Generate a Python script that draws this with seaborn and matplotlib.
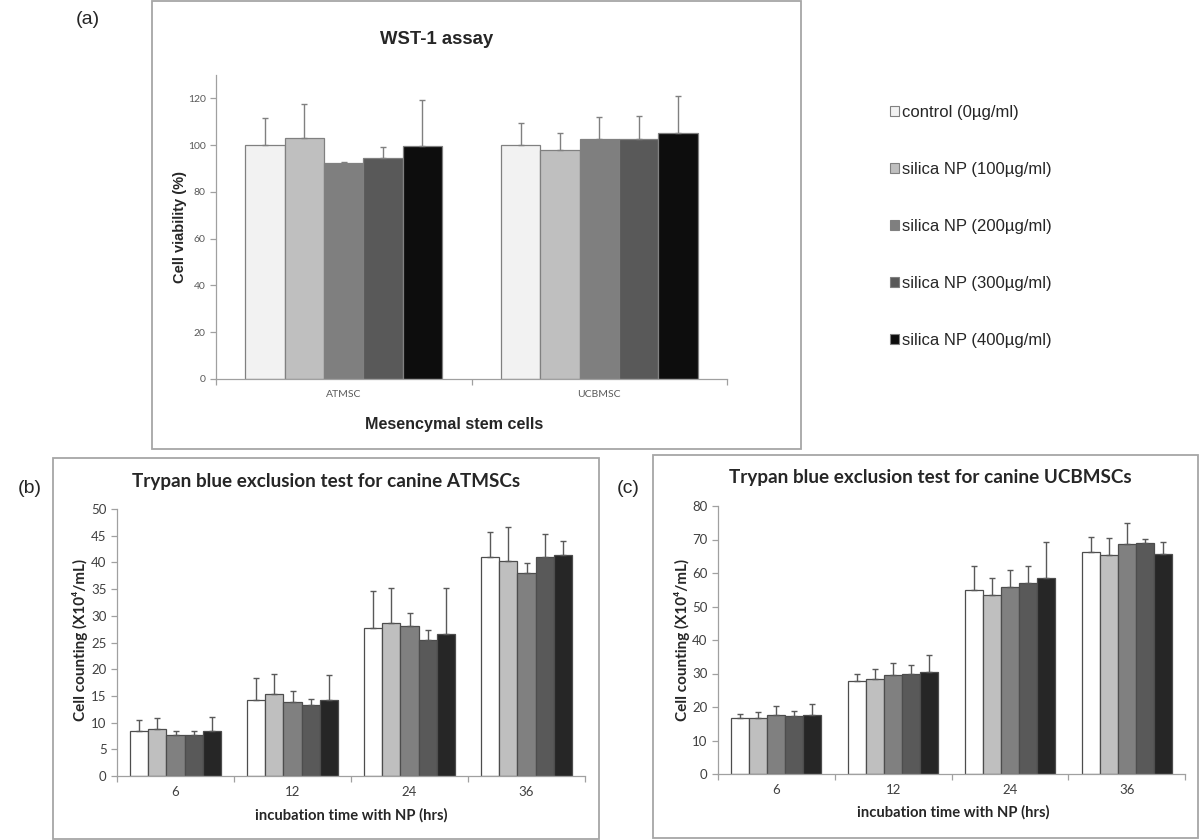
import numpy as np
import pandas as pd
import matplotlib
matplotlib.use("Agg")
import matplotlib.pyplot as plt
from matplotlib.patches import Rectangle
import seaborn as sns

# ---------------- data ----------------
groups = ["control (0µg/ml)", "silica NP (100µg/ml)", "silica NP (200µg/ml)",
          "silica NP (300µg/ml)", "silica NP (400µg/ml)"]

# (a) WST-1 assay
wst_cells = ["ATMSC", "UCBMSC"]
wst_atmsc = [100.0, 103.0, 92.5, 94.5, 99.5]
wst_atmsc_err = [11.7, 14.4, 0.4, 4.7, 19.6]
wst_ucbmsc = [100.0, 97.9, 102.7, 102.7, 105.4]
wst_ucbmsc_err = [9.5, 7.4, 9.4, 9.7, 15.7]

# (b), (c) Trypan blue
hours = ["6", "12", "24", "36"]
at_6 = [8.4, 8.8, 7.7, 7.7, 8.4]
at_6_err = [2.0, 2.0, 0.7, 0.7, 2.7]
at_12 = [14.3, 15.3, 13.9, 13.3, 14.3]
at_12_err = [4.0, 3.8, 2.1, 1.1, 4.7]
at_24 = [27.7, 28.6, 28.0, 25.4, 26.6]
at_24_err = [6.9, 6.6, 2.5, 2.0, 8.6]
at_36 = [41.0, 40.3, 38.0, 41.0, 41.4]
at_36_err = [4.6, 6.4, 1.8, 4.4, 2.7]

uc_6 = [16.6, 16.6, 17.7, 17.4, 17.7]
uc_6_err = [1.4, 1.8, 2.5, 1.5, 3.1]
uc_12 = [27.8, 28.3, 29.6, 30.0, 30.4]
uc_12_err = [2.0, 3.0, 3.6, 2.6, 5.2]
uc_24 = [54.8, 53.5, 55.8, 57.1, 58.6]
uc_24_err = [7.3, 4.9, 5.0, 5.0, 10.7]
uc_36 = [66.2, 65.4, 68.7, 69.1, 65.7]
uc_36_err = [4.4, 5.0, 6.2, 1.0, 3.5]

pal_a = ["#f2f2f2", "#bfbfbf", "#7f7f7f", "#595959", "#0d0d0d"]
pal_bc = ["#ffffff", "#bfbfbf", "#808080", "#595959", "#262626"]

# ---------------- setup ----------------
sns.set_theme(style="white")
ARIAL = ["Liberation Sans", "DejaVu Sans"]
CALIBRI = ["Lato", "DejaVu Sans"]
plt.rcParams["font.family"] = ARIAL

W, H = 1200, 840
fig = plt.figure(figsize=(W / 100, H / 100), dpi=100)


def px(x, y):
    return x / W, 1 - y / H


def axes_px(x0, y0, x1, y1):
    return fig.add_axes([x0 / W, 1 - y1 / H, (x1 - x0) / W, (y1 - y0) / H])


def frame(x0, y0, x1, y1):
    fig.patches.append(Rectangle((x0 / W, 1 - y1 / H), (x1 - x0) / W, (y1 - y0) / H,
                                 transform=fig.transFigure, fill=False,
                                 edgecolor="#a6a6a6", linewidth=1.3))


def draw(ax, cats, means, errs, pal, edge, errc, spinec):
    rows = []
    for c, m in zip(cats, means):
        for g, v in zip(groups, m):
            rows.append({"cat": c, "group": g, "val": v})
    df = pd.DataFrame(rows)
    sns.barplot(data=df, x="cat", y="val", hue="group", order=cats, hue_order=groups,
                palette=pal, width=0.77, errorbar=None, edgecolor=edge,
                linewidth=0.9, saturation=1, ax=ax)
    bar_conts = list(ax.containers)
    for gi, cont in enumerate(bar_conts):
        for ci, bar in enumerate(cont.patches):
            x = bar.get_x() + bar.get_width() / 2
            y = bar.get_height()
            ax.errorbar([x], [y], yerr=[[0], [errs[ci][gi]]], fmt="none",
                        ecolor=errc, elinewidth=1.0, capsize=2.2, capthick=1.0)
    n = len(cats)
    ax.set_xlim(-0.5, n - 0.5)
    ax.set_xticks(range(n))
    ax.set_xticks(np.arange(-0.5, n), minor=True)
    ax.set_xlabel("")
    ax.set_ylabel("")
    for s in ["top", "right"]:
        ax.spines[s].set_visible(False)
    for s in ["left", "bottom"]:
        ax.spines[s].set_color(spinec)
        ax.spines[s].set_linewidth(0.9)
    ax.tick_params(axis="x", which="major", bottom=False, length=0)
    ax.tick_params(axis="x", which="minor", bottom=True, length=4, color=spinec, width=0.9)
    ax.tick_params(axis="y", left=True, length=4, color=spinec, width=0.9)


# ---------------- (a) ----------------
frame(152, 1, 801, 449)
ax_a = axes_px(216, 75, 727, 379)
draw(ax_a, wst_cells, [wst_atmsc, wst_ucbmsc], [wst_atmsc_err, wst_ucbmsc_err],
     pal_a, "#808080", "#808080", "#a0a0a0")
ax_a.set_ylim(0, 130)
ax_a.set_yticks(np.arange(0, 121, 20))
ax_a.tick_params(axis="both", labelsize=7.5, labelcolor="#595959")
ax_a.tick_params(axis="x", pad=8)
for t in ax_a.get_xticklabels() + ax_a.get_yticklabels():
    t.set_family(CALIBRI)
handles, labels = ax_a.get_legend_handles_labels()
if ax_a.get_legend() is not None:
    ax_a.get_legend().remove()
for h in handles:
    h.set_edgecolor("#808080")
    h.set_linewidth(0.8)
fig.legend(handles, labels, loc="upper left", bbox_to_anchor=px(890, 105),
           frameon=False, prop={"family": ARIAL, "size": 12}, labelspacing=2.52,
           handlelength=0.55, handleheight=0.55, handletextpad=0.2,
           borderpad=0, borderaxespad=0)

fig.text(*px(88, 20), "(a)", ha="center", va="center", fontsize=14, family=ARIAL)
fig.text(*px(437, 40), "WST-1 assay", ha="center", va="center", fontsize=13.3,
         fontweight="bold", family=ARIAL)
fig.text(*px(180, 227), "Cell viability (%)", ha="center", va="center", rotation=90,
         fontsize=10.5, fontweight="bold", family=ARIAL)
fig.text(*px(454, 425), "Mesencymal stem cells", ha="center", va="center", fontsize=11.6,
         fontweight="bold", family=ARIAL)

# ---------------- (b) ----------------
frame(53, 458, 599, 839)
ax_b = axes_px(117, 509, 585, 776)
draw(ax_b, hours, [at_6, at_12, at_24, at_36], [at_6_err, at_12_err, at_24_err, at_36_err],
     pal_bc, "#4d4d4d", "#595959", "#a0a0a0")
if ax_b.get_legend() is not None:
    ax_b.get_legend().remove()
ax_b.set_ylim(0, 50)
ax_b.set_yticks(np.arange(0, 51, 5))
ax_b.tick_params(axis="both", labelsize=9.5, labelcolor="#404040")
ax_b.tick_params(axis="x", pad=7)
for t in ax_b.get_xticklabels() + ax_b.get_yticklabels():
    t.set_family(CALIBRI)

fig.text(*px(30, 488), "(b)", ha="center", va="center", fontsize=14, family=ARIAL)
fig.text(*px(326, 482), "Trypan blue exclusion test for canine ATMSCs", ha="center",
         va="center", fontsize=13.6, fontweight="bold", family=CALIBRI)
fig.text(*px(80, 640), "Cell counting (X10⁴/mL)", ha="center", va="center", rotation=90,
         fontsize=11, fontweight="bold", family=CALIBRI)
fig.text(*px(351, 815), "incubation time with NP (hrs)", ha="center", va="center",
         fontsize=10.6, fontweight="bold", family=CALIBRI)

# ---------------- (c) ----------------
frame(653, 455, 1198, 838)
ax_c = axes_px(718, 506, 1185, 774)
draw(ax_c, hours, [uc_6, uc_12, uc_24, uc_36], [uc_6_err, uc_12_err, uc_24_err, uc_36_err],
     pal_bc, "#4d4d4d", "#595959", "#a0a0a0")
if ax_c.get_legend() is not None:
    ax_c.get_legend().remove()
ax_c.set_ylim(0, 80)
ax_c.set_yticks(np.arange(0, 81, 10))
ax_c.tick_params(axis="both", labelsize=9.5, labelcolor="#404040")
ax_c.tick_params(axis="x", pad=7)
for t in ax_c.get_xticklabels() + ax_c.get_yticklabels():
    t.set_family(CALIBRI)

fig.text(*px(628, 488), "(c)", ha="center", va="center", fontsize=14, family=ARIAL)
fig.text(*px(930, 478), "Trypan blue exclusion test for canine UCBMSCs", ha="center",
         va="center", fontsize=13.6, fontweight="bold", family=CALIBRI)
fig.text(*px(682, 640), "Cell counting (X10⁴/mL)", ha="center", va="center", rotation=90,
         fontsize=11, fontweight="bold", family=CALIBRI)
fig.text(*px(953, 812), "incubation time with NP (hrs)", ha="center", va="center",
         fontsize=10.6, fontweight="bold", family=CALIBRI)

fig.savefig("out.png", dpi=100, facecolor="white")
